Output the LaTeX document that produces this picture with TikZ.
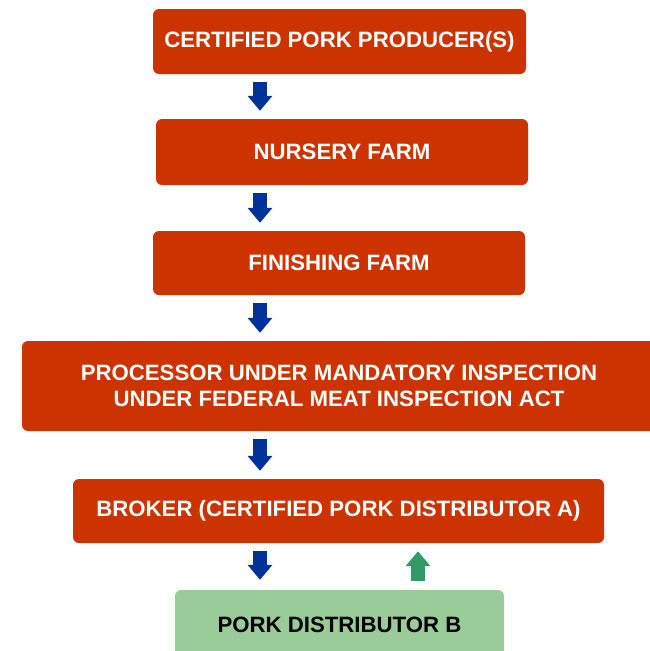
\documentclass[tikz,border=0pt]{standalone}
\usepackage{fontspec}
\setmainfont{Liberation Sans}
\usetikzlibrary{arrows.meta}
\definecolor{porkred}{HTML}{CC3300}
\definecolor{flowblue}{HTML}{003399}
\definecolor{backgreen}{HTML}{339966}
\definecolor{distgreen}{HTML}{99CC99}

\begin{document}
\begin{tikzpicture}[x=1pt,y=-1pt]
\tikzstyle{every node}+=[inner sep=0pt, align=center, font=\fontsize{22.2}{25.5}\selectfont\bfseries]
\tikzstyle{redbox}=[fill=porkred, rounded corners=6pt, text=white]
\tikzstyle{greenbox}=[fill=distgreen, rounded corners=6pt, text=black]
\tikzstyle{downflow}=[flowblue, line width=14pt, -{Triangle[width=24pt,length=15pt]}, shorten <=8pt, shorten >=8pt]
\tikzstyle{upflow}=[backgreen, line width=14pt, -{Triangle[width=24pt,length=15pt]}, shorten <=9pt, shorten >=8pt]
\useasboundingbox (0,0) rectangle (649,651);
\node [redbox, minimum width=373pt, minimum height=65pt] (producer) at (339.5,41.5) {CERTIFIED PORK PRODUCER(S)};
\node [redbox, minimum width=372pt, minimum height=66pt] (nursery) at (342,152) {NURSERY FARM};
\node [redbox, minimum width=372pt, minimum height=64pt] (finishing) at (339,263) {FINISHING FARM};
\node [redbox, minimum width=634pt, minimum height=90pt] (processor) at (339,386) {PROCESSOR UNDER MANDATORY INSPECTION\\UNDER FEDERAL MEAT INSPECTION ACT};
\node [redbox, minimum width=531pt, minimum height=64pt] (broker) at (338.5,511) {BROKER (CERTIFIED PORK DISTRIBUTOR A)};
\node [greenbox, minimum width=329pt, minimum height=70pt] (distb) at (339.5,625) {PORK DISTRIBUTOR B};
\coordinate (col) at (260,0);
\coordinate (back) at (418,0);
\draw [downflow] (producer.south -| col) -- (nursery.north -| col);
\draw [downflow] (nursery.south -| col) -- (finishing.north -| col);
\draw [downflow] (finishing.south -| col) -- (processor.north -| col);
\draw [downflow] (processor.south -| col) -- (broker.north -| col);
\draw [downflow, shorten >=10pt] (broker.south -| col) -- (distb.north -| col);
\draw [upflow] (distb.north -| back) -- (broker.south -| back);
\end{tikzpicture}
\end{document}
